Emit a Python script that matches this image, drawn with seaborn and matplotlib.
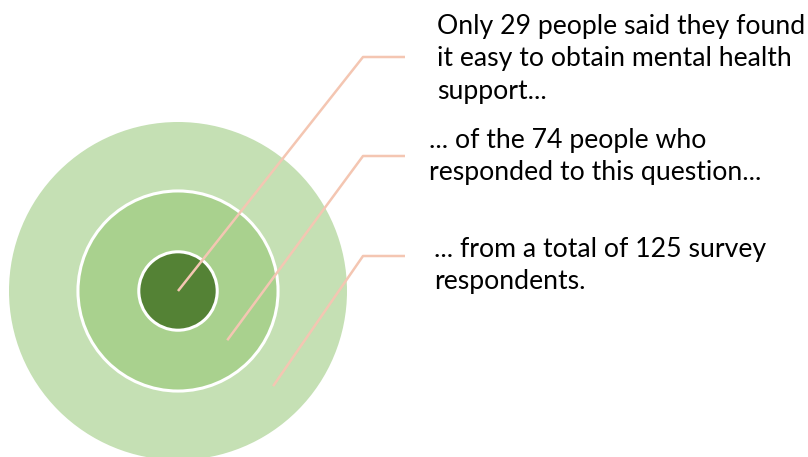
import matplotlib
matplotlib.use("Agg")
import matplotlib.pyplot as plt
from matplotlib.patches import Circle
import seaborn as sns

# Survey funnel: total respondents, those answering the question, those finding it easy
labels = ["total", "responded", "easy"]
counts = [125, 74, 29]
captions = [
    "... from a total of 125 survey\nrespondents.",
    "... of the 74 people who\nresponded to this question...",
    "Only 29 people said they found\nit easy to obtain mental health\nsupport...",
]
fills = ["#C5E0B4", "#A9D18E", "#548235"]

sns.set_theme(style="white")
plt.rcParams["font.family"] = ["Lato", "DejaVu Sans"]

W, H = 808, 457
fig = plt.figure(figsize=(W / 100, H / 100), dpi=100)
ax = fig.add_axes([0, 0, 1, 1])
ax.set_xlim(0, W)
ax.set_ylim(H, 0)
ax.set_aspect("equal")
ax.axis("off")

cx, cy = 178, 291
scale = 169 / max(counts)          # pixels of radius per respondent
radii = [c * scale for c in counts]

for i, (r, col) in enumerate(zip(radii, fills)):
    ec = "white" if i > 0 else "none"
    ax.add_patch(Circle((cx, cy), r, facecolor=col, edgecolor=ec, lw=2.2, zorder=1 + i))

# leader lines: from the middle of each ring out to its caption
line_col = "#F4C6B2"
elbow_y = [256, 156, 57]
for i, r in enumerate(radii):
    inner = radii[i + 1] if i + 1 < len(radii) else None
    d = (r + inner) / 2 if inner is not None else 0.0
    ex, ey = cx + d * 0.707, cy + d * 0.707
    ax.plot([ex, 363, 405], [ey, elbow_y[i], elbow_y[i]], color=line_col, lw=1.8,
            solid_capstyle="butt", zorder=10)

text_pos = [(434, 237), (429, 128), (437, 14)]
for (tx, ty), txt in zip(text_pos, captions):
    ax.text(tx, ty, txt, fontsize=19.2, color="black", va="top", ha="left",
            linespacing=1.37, zorder=11)

fig.savefig("out.png", dpi=100)
